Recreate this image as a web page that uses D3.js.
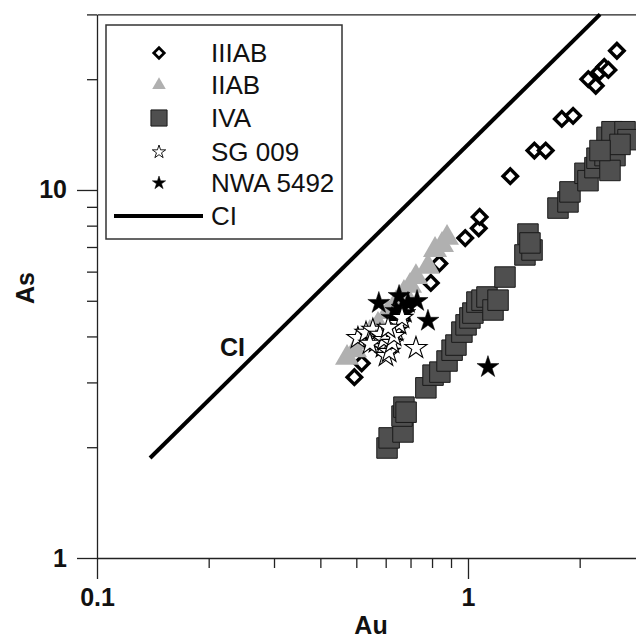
<!DOCTYPE html>
<html>
<head>
<meta charset="utf-8">
<script src="https://cdn.jsdelivr.net/npm/d3@7"></script>
<style>
  body { margin: 0; background: #fff; }
  svg { display: block; font-family: "Liberation Sans", Arial, sans-serif; }
  .axis text { font-weight: bold; font-size: 25px; fill: #111; }
  .axis line, .axis path { stroke: #222; stroke-width: 1.3; }
</style>
</head>
<body>
<div id="chart"></div>
<script>
// series values: [Au, As]
const IIIAB = [[0.494,3.10],[0.517,3.38],[0.794,5.59],[0.837,6.31],[0.983,7.40],[1.069,7.87],[1.075,8.45],
  [1.30,10.9],[1.51,12.8],[1.62,12.8],[1.79,15.6],[1.92,15.9],[2.11,20.0],[2.21,19.2],[2.26,20.9],
  [2.33,21.6],[2.39,21.2],[2.52,23.9]];
const IIAB = [[0.472,3.50],[0.496,3.67],[0.518,3.86],[0.544,4.09],[0.572,4.30],[0.609,4.66],[0.640,4.93],
  [0.672,5.25],[0.698,5.49],[0.724,5.80],[0.780,6.18],[0.815,6.87],[0.851,7.09],[0.878,7.41]];
const IVA = [[0.605,1.99],[0.613,2.12],[0.668,2.20],[0.664,2.43],[0.672,2.57],[0.681,2.49],[0.770,2.90],
  [0.805,3.14],[0.840,3.20],[0.878,3.43],[0.906,3.67],[0.928,3.79],[0.963,4.11],[0.988,4.30],[1.012,4.49],
  [1.031,4.63],[1.057,4.96],[1.091,5.02],[1.125,5.12],[1.168,4.72],[1.205,5.02],[1.258,5.80],[1.424,6.66],
  [1.488,6.87],[1.451,7.59],[1.469,7.18],[1.748,8.93],[1.860,9.28],[1.883,9.88],[2.067,11.1],[2.106,10.6],
  [2.199,11.5],[2.227,12.2],[2.341,12.4],[2.370,13.9],[2.444,14.4],[2.490,12.4],[2.414,11.3],[2.650,14.4],
  [2.700,13.7],[2.569,13.3],[2.269,12.8]];
const SG009 = [[0.505,3.96],[0.531,4.09],[0.554,4.17],[0.565,3.86],[0.579,4.04],[0.590,3.74],[0.601,3.54],
  [0.613,3.63],[0.594,3.91],[0.624,3.84],[0.640,4.14],[0.652,4.32],[0.664,4.49],[0.632,4.01],[0.724,3.72],
  [0.544,3.82],[0.609,4.22]];
const NWA5492 = [[0.575,4.93],[0.652,5.15],[0.664,4.78],[0.689,4.93],[0.729,4.99],[0.624,4.49],[0.640,4.69],
  [0.780,4.41],[1.132,3.30],[0.676,4.63]];
const ciAu = [0.139, 2.27];
const ciAs = [1.87, 30];

const xMajor = [0.1, 1];
const xMinor = [0.2, 0.3, 0.4, 0.5, 0.6, 0.7, 0.8, 0.9, 2, 3];
const yMajor = [1, 10];
const yMinor = [2, 3, 4, 5, 6, 7, 8, 9, 20, 30];

const W = 636, H = 640;
const svg = d3.select("#chart").append("svg").attr("width", W).attr("height", H);

const x = d3.scaleLog().domain([0.1, 3]).range([97, 645]);
const y = d3.scaleLog().domain([1, 30]).range([558, 14.4]);

// axes
const fmt = d => String(d);
svg.append("g").attr("class", "axis").attr("transform", "translate(0,558)")
  .call(d3.axisBottom(x).tickValues(xMinor).tickSize(10).tickFormat(""))
  .call(g => g.select(".domain").remove());
svg.append("g").attr("class", "axis").attr("transform", "translate(0,558)")
  .call(d3.axisBottom(x).tickValues(xMajor).tickSize(21).tickSizeOuter(0).tickPadding(9).tickFormat(fmt));
svg.append("g").attr("class", "axis").attr("transform", "translate(97,0)")
  .call(d3.axisLeft(y).tickValues(yMinor).tickSize(10).tickFormat(""))
  .call(g => g.select(".domain").remove());
svg.append("g").attr("class", "axis").attr("transform", "translate(97,0)")
  .call(d3.axisLeft(y).tickValues(yMajor).tickSize(20).tickSizeOuter(0).tickPadding(10).tickFormat(fmt));
svg.append("g").attr("class", "axis").attr("transform", "translate(0,14.4)")
  .call(d3.axisTop(x).tickValues([]).tickSizeOuter(0));

svg.append("text").attr("x", 371).attr("y", 634).attr("text-anchor", "middle")
  .attr("font-weight", "bold").attr("font-size", 25).attr("fill", "#111").text("Au");
svg.append("text").attr("transform", "translate(34,288) rotate(-90)").attr("text-anchor", "middle")
  .attr("font-weight", "bold").attr("font-size", 25).attr("fill", "#111").text("As");

// CI line
svg.append("line")
  .attr("x1", x(ciAu[0])).attr("y1", y(ciAs[0]))
  .attr("x2", x(ciAu[1])).attr("y2", y(ciAs[1]))
  .attr("stroke", "#000").attr("stroke-width", 4);
svg.append("text").attr("x", 220).attr("y", 356)
  .attr("font-weight", "bold").attr("font-size", 25).attr("fill", "#111").text("CI");

const STYLES = {
  IIIAB: { type: d3.symbolSquare, size: 105, rot: 45, fill: "#fff", stroke: "#000", sw: 3.4 },
  IIAB: { type: d3.symbolTriangle, size: 250, rot: 0, fill: "#b0b0b0", stroke: "none", sw: 0 },
  IVA: { type: d3.symbolSquare, size: 420, rot: 0, fill: "#4f4f4f", stroke: "#1a1a1a", sw: 1 },
  SG009: { type: d3.symbolStar, size: 150, rot: 0, fill: "#fff", stroke: "#000", sw: 1.1 },
  NWA5492: { type: d3.symbolStar, size: 150, rot: 0, fill: "#000", stroke: "#000", sw: 0.5 }
};

function drawSeries(data, st) {
  svg.append("g").selectAll("path").data(data).enter().append("path")
    .attr("d", d3.symbol().type(st.type).size(st.size))
    .attr("transform", d => `translate(${x(d[0])},${y(d[1])}) rotate(${st.rot})`)
    .attr("fill", st.fill).attr("stroke", st.stroke).attr("stroke-width", st.sw);
}
drawSeries(IIIAB, STYLES.IIIAB);
drawSeries(IIAB, STYLES.IIAB);
drawSeries(IVA, STYLES.IVA);
drawSeries(NWA5492, STYLES.NWA5492);
drawSeries(SG009, STYLES.SG009);

// legend
const legend = svg.append("g");
legend.append("rect").attr("x", 106).attr("y", 25).attr("width", 236).attr("height", 214)
  .attr("fill", "#fff").attr("stroke", "#333").attr("stroke-width", 1.5);
const legendItems = [
  { label: "IIIAB", st: { ...STYLES.IIIAB, size: 55, sw: 2.7 }, y: 53 },
  { label: "IIAB", st: { ...STYLES.IIAB, size: 80 }, y: 85 },
  { label: "IVA", st: { ...STYLES.IVA, size: 260 }, y: 118 },
  { label: "SG 009", st: { ...STYLES.SG009, size: 55, sw: 0.9 }, y: 152 },
  { label: "NWA 5492", st: { ...STYLES.NWA5492, size: 55 }, y: 183 }
];
legendItems.forEach(it => {
  legend.append("path").attr("d", d3.symbol().type(it.st.type).size(it.st.size))
    .attr("transform", `translate(159,${it.y}) rotate(${it.st.rot})`)
    .attr("fill", it.st.fill).attr("stroke", it.st.stroke).attr("stroke-width", it.st.sw);
  legend.append("text").attr("x", 211).attr("y", it.y + 9).attr("font-size", 26)
    .attr("fill", "#111").text(it.label);
});
legend.append("line").attr("x1", 114).attr("x2", 203).attr("y1", 216).attr("y2", 216)
  .attr("stroke", "#000").attr("stroke-width", 4);
legend.append("text").attr("x", 211).attr("y", 225).attr("font-size", 26)
  .attr("fill", "#111").text("CI");
</script>
</body>
</html>
